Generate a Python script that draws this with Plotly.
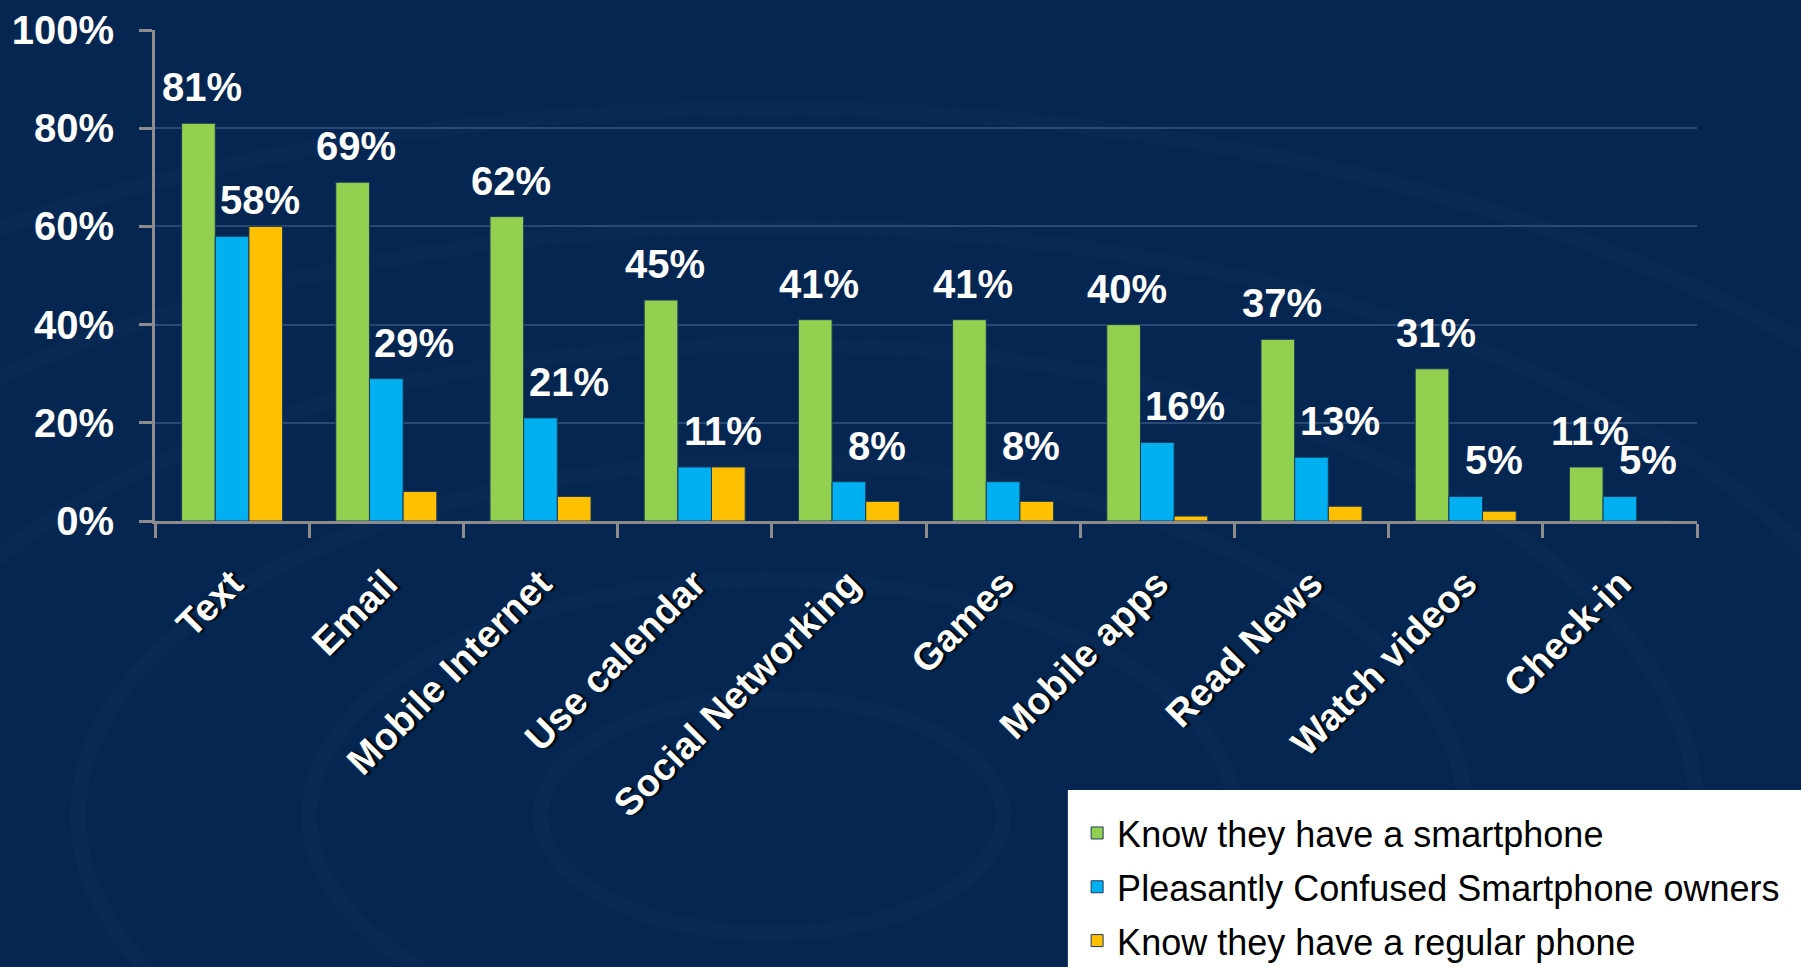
import plotly.graph_objects as go

categories = ["Text", "Email", "Mobile Internet", "Use calendar", "Social Networking",
              "Games", "Mobile apps", "Read News", "Watch videos", "Check-in"]
know_smartphone = [81, 69, 62, 45, 41, 41, 40, 37, 31, 11]
confused_owners = [58, 29, 21, 11, 8, 8, 16, 13, 5, 5]
regular_phone = [60, 6, 5, 11, 4, 4, 1, 3, 2, 0]
series_names = ["Know they have a smartphone",
                "Pleasantly Confused Smartphone owners",
                "Know they have a regular phone"]
tick_vals = [0, 20, 40, 60, 80, 100]
tick_text = ["0%", "20%", "40%", "60%", "80%", "100%"]

colors = ["#92d050", "#00b0f0", "#ffc000"]
bg = "#042650"
font_main = "Liberation Sans, Arial, sans-serif"

fig = go.Figure()
for i, (name, vals, col) in enumerate(zip(series_names, [know_smartphone, confused_owners, regular_phone], colors)):
    fig.add_trace(go.Bar(x=categories, y=vals, name=name, legendgroup=f"g{i}",
                         marker=dict(color=col, line=dict(color="#1d3a5c", width=1)),
                         hoverinfo="x+y"))

annotations = []
for c, v in zip(categories, know_smartphone):
    annotations.append(dict(x=c, y=v, text=f"{v}%", showarrow=False, xref="x", yref="y",
                            xshift=-30, yshift=36, yanchor="middle",
                            font=dict(family=font_main, size=40, color="white", weight="bold")))
for c, v in zip(categories, confused_owners):
    annotations.append(dict(x=c, y=v, text=f"{v}%", showarrow=False, xref="x", yref="y",
                            xshift=28, yshift=36, yanchor="middle",
                            font=dict(family=font_main, size=40, color="white", weight="bold")))

shapes = []
cx, cy = 0.40, -0.60
for r in [0.15, 0.3, 0.45, 0.6, 0.75, 0.9]:
    shapes.append(dict(type="circle", xref="paper", yref="paper",
                       x0=cx - r, x1=cx + r, y0=cy - r * 1.6, y1=cy + r * 1.6,
                       line=dict(color="rgba(120,170,230,0.03)", width=16), layer="below"))
shapes.append(dict(type="rect", xref="paper", yref="paper",
                   x0=0.592, x1=1.08, y0=-0.548, y1=-0.95,
                   fillcolor="white", line=dict(width=0), layer="below"))

fig.update_layout(
    width=1801, height=967, autosize=False,
    barmode="group",
    bargap=0.345,
    bargroupgap=0,
    paper_bgcolor=bg,
    plot_bgcolor=bg,
    margin=dict(l=155, r=104, t=30, b=446, autoexpand=False),
    showlegend=True,
    legend=dict(x=0.598, y=-0.5745, xanchor="left", yanchor="top",
                traceorder="grouped", tracegroupgap=4,
                bgcolor="rgba(0,0,0,0)", borderwidth=0,
                font=dict(family=font_main, size=36, color="black")),
    annotations=annotations,
    shapes=shapes,
    xaxis=dict(showline=True, linecolor="#8c8c8c", linewidth=3,
               ticks="outside", tickson="boundaries", ticklen=14, tickwidth=3, tickcolor="#8c8c8c",
               tickangle=-45, ticklabelstandoff=22,
               tickfont=dict(family=font_main, size=38, color="white", weight="bold",
                             shadow="2px 2px 2px #000"),
               showgrid=False),
    yaxis=dict(range=[0, 100], tickvals=tick_vals, ticktext=tick_text,
               showline=True, linecolor="#8c8c8c", linewidth=3,
               ticks="outside", ticklen=13, tickwidth=3, tickcolor="#8c8c8c",
               tickfont=dict(family=font_main, size=40, color="white", weight="bold"),
               showgrid=True, gridcolor="rgba(110,140,180,0.35)", gridwidth=2,
               zeroline=False, ticklabelstandoff=17),
)

fig.write_html("out.html", config={"displayModeBar": False},
               post_script="document.body.style.margin='0';document.body.style.overflow='hidden';")
